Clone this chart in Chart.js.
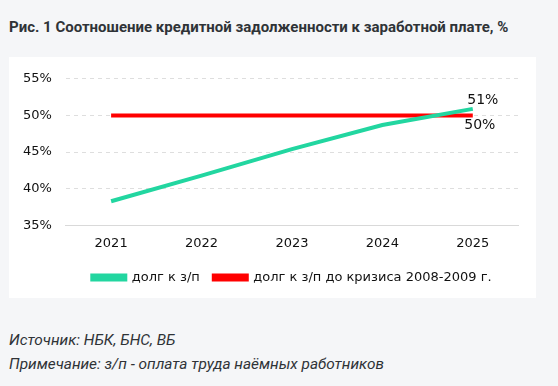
<!DOCTYPE html>
<html><head><meta charset="utf-8">
<script src="https://cdn.jsdelivr.net/npm/chart.js@4/dist/chart.umd.min.js"></script>
<style>
html,body{margin:0;padding:0;background:#f5f6f8;width:558px;height:386px;overflow:hidden;}
#title{position:absolute;left:9px;top:18px;font:bold 15px Roboto,sans-serif;color:#2f3337;white-space:nowrap;}
#card{position:absolute;left:9px;top:57px;width:527px;height:241px;background:#fff;}
.note{position:absolute;left:9px;font:italic 15.4px Roboto,sans-serif;color:#2f3337;white-space:nowrap;}
</style></head>
<body>
<div id="title">Рис. 1 Соотношение кредитной задолженности к заработной плате, %</div>
<div id="card"><canvas id="c" width="527" height="241"></canvas></div>
<div class="note" style="top:331px">Источник: НБК, БНС, ВБ</div>
<div class="note" style="top:355px">Примечание: з/п - оплата труда наёмных работников</div>
<script>
const categories = ['2021','2022','2023','2024','2025'];
const debtToWage = [38.3, 41.8, 45.4, 48.7, 50.9];
const preCrisis = [50, 50, 50, 50, 50];
const seriesNames = ['долг к з/п', 'долг к з/п до кризиса 2008-2009 г.'];
const yTicks = [35, 40, 45, 50, 55];

const lastLabels = {
  id: 'lastLabels',
  afterDatasetsDraw(chart) {
    const ctx = chart.ctx;
    ctx.save();
    ctx.font = '14px "DejaVu Sans"';
    ctx.fillStyle = '#111';
    ctx.textAlign = 'center';
    ctx.textBaseline = 'middle';
    const offs = [[10, -8], [7, 9.5]];
    chart.data.datasets.forEach((ds, i) => {
      const meta = chart.getDatasetMeta(i);
      const n = ds.data.length - 1;
      const pt = meta.data[n];
      ctx.fillText(Math.round(ds.data[n]) + '%', pt.x + offs[i][0], pt.y + offs[i][1]);
    });
    ctx.restore();
  }
};

new Chart(document.getElementById('c'), {
  type: 'line',
  data: {
    labels: categories,
    datasets: [
      {label: seriesNames[0], data: debtToWage, borderColor: '#22d6a0', backgroundColor: '#22d6a0', borderWidth: 4, pointRadius: 0, tension: 0},
      {label: seriesNames[1], data: preCrisis, borderColor: '#ff0000', backgroundColor: '#ff0000', borderWidth: 4, pointRadius: 0, tension: 0}
    ]
  },
  options: {
    responsive: false,
    animation: false,
    layout: {padding: {left: 0, right: 18, top: 12, bottom: 4}},
    plugins: {
      tooltip: {enabled: false},
      legend: {
        position: 'bottom',
        fullSize: false,
        labels: {boxWidth: 33, boxHeight: 4, padding: 14, color: '#111', font: {family: 'DejaVu Sans', size: 13}}
      }
    },
    scales: {
      x: {
        offset: true,
        grid: {display: false, drawTicks: false},
        border: {display: true, color: '#d9d9d9', width: 1},
        ticks: {padding: 10, color: '#111', font: {family: 'DejaVu Sans', size: 13}},
        afterFit: (s) => { s.height -= 4; }
      },
      y: {
        min: 35, max: 55,
        afterBuildTicks: (axis) => { axis.ticks = yTicks.map(v => ({value: v})); },
        grid: {color: '#dedede', drawTicks: false, lineWidth: 1},
        border: {display: false, dash: [4, 4]},
        ticks: {padding: 14, color: '#111', font: {family: 'DejaVu Sans', size: 13}, callback: v => v + '%'}
      }
    }
  },
  plugins: [lastLabels]
});
</script>
</body></html>
